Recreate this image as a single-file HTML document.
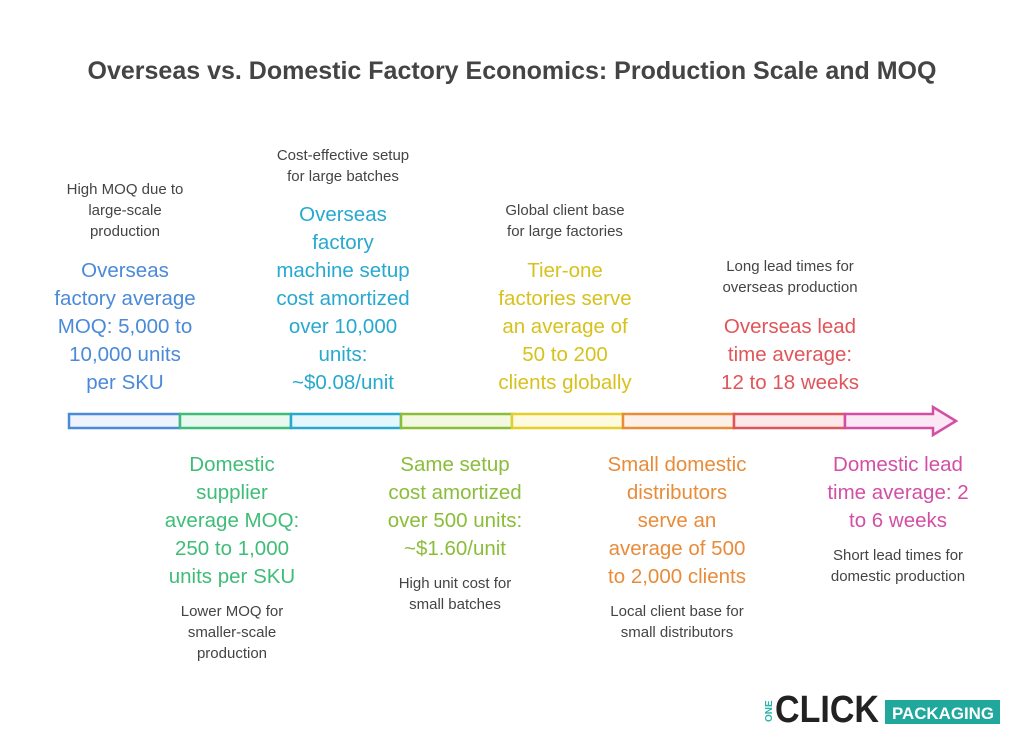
<!DOCTYPE html>
<html><head><style>
body{margin:0;width:1024px;height:747px;background:#fff;font-family:"Liberation Sans",sans-serif;position:relative;overflow:hidden}
.t{position:absolute;text-align:center;width:200px}
.g{font-size:15px;line-height:21px;color:#444}
.c{font-size:20.5px;line-height:28px}
</style></head><body>
<div style="position:absolute;left:0;width:1024px;top:57px;text-align:center;font-size:25px;font-weight:bold;color:#444">Overseas vs. Domestic Factory Economics: Production Scale and MOQ</div>

<div class="t g" style="left:25px;top:179px">High MOQ due to<br>large-scale<br>production</div>
<div class="t c" style="left:25px;top:257px;color:#4a8ad8">Overseas<br>factory average<br>MOQ: 5,000 to<br>10,000 units<br>per SKU</div>

<div class="t g" style="left:243px;top:145px">Cost-effective setup<br>for large batches</div>
<div class="t c" style="left:243px;top:201px;color:#27a9cf">Overseas<br>factory<br>machine setup<br>cost amortized<br>over 10,000<br>units:<br>~$0.08/unit</div>

<div class="t g" style="left:465px;top:200px">Global client base<br>for large factories</div>
<div class="t c" style="left:465px;top:257px;color:#d7c21d">Tier-one<br>factories serve<br>an average of<br>50 to 200<br>clients globally</div>

<div class="t g" style="left:690px;top:256px">Long lead times for<br>overseas production</div>
<div class="t c" style="left:690px;top:313px;color:#e0555a">Overseas lead<br>time average:<br>12 to 18 weeks</div>

<div class="t c" style="left:132px;top:451px;color:#3fbd78">Domestic<br>supplier<br>average MOQ:<br>250 to 1,000<br>units per SKU</div>
<div class="t g" style="left:132px;top:601px">Lower MOQ for<br>smaller-scale<br>production</div>

<div class="t c" style="left:355px;top:451px;color:#8abd3a">Same setup<br>cost amortized<br>over 500 units:<br>~$1.60/unit</div>
<div class="t g" style="left:355px;top:573px">High unit cost for<br>small batches</div>

<div class="t c" style="left:577px;top:451px;color:#e88c3a">Small domestic<br>distributors<br>serve an<br>average of 500<br>to 2,000 clients</div>
<div class="t g" style="left:577px;top:601px">Local client base for<br>small distributors</div>

<div class="t c" style="left:798px;top:451px;color:#d24fa5">Domestic lead<br>time average: 2<br>to 6 weeks</div>
<div class="t g" style="left:798px;top:545px">Short lead times for<br>domestic production</div>

<svg style="position:absolute;left:0;top:0" width="1024" height="747">
<g stroke-width="2.5">
<rect x="69" y="414" width="111" height="14" fill="#eef3fc" stroke="#4a8ad8"/>
<rect x="180" y="414" width="111" height="14" fill="#e8f9ef" stroke="#3fbd78"/>
<rect x="291" y="414" width="110" height="14" fill="#e4f7fc" stroke="#27a9cf"/>
<rect x="401" y="414" width="111" height="14" fill="#f2f9e0" stroke="#8abd3a"/>
<rect x="512" y="414" width="111" height="14" fill="#fdfae0" stroke="#e4cf2a"/>
<rect x="623" y="414" width="111" height="14" fill="#fdf0e6" stroke="#e88c3a"/>
<rect x="734" y="414" width="111" height="14" fill="#fde9ea" stroke="#e0555a"/>
<path d="M845 414 H933 V407 L956 421 L933 435 V428 H845 Z" fill="#fce8f4" stroke="#d24fa5"/>
</g>
<text x="772" y="722" font-size="10" fill="#2ab3a8" font-weight="bold" transform="rotate(-90 772 722)">ONE</text>
<text x="775" y="722" font-size="38" font-weight="bold" fill="#222" textLength="104" lengthAdjust="spacingAndGlyphs">CLICK</text>
<rect x="885" y="700" width="115" height="24" fill="#20a89c"/>
<text x="892" y="719" font-size="17" font-weight="bold" fill="#fff" textLength="102" lengthAdjust="spacingAndGlyphs">PACKAGING</text>
</svg>
</body></html>
